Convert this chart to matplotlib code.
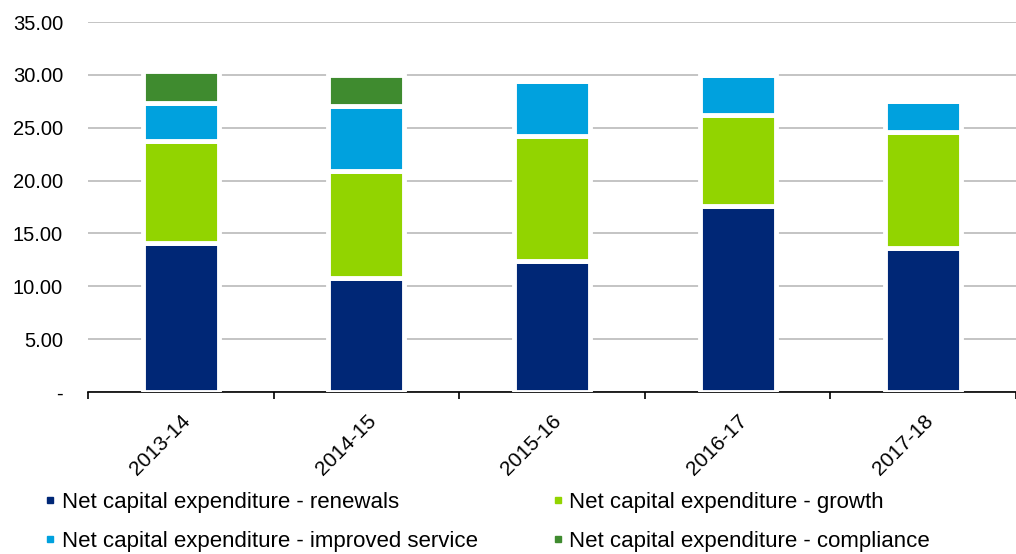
import matplotlib.pyplot as plt
from matplotlib.lines import Line2D
import numpy as np

plt.rcParams['font.family'] = ['Liberation Sans', 'DejaVu Sans']

years = ['2013-14', '2014-15', '2015-16', '2016-17', '2017-18']
renewals = [14.13, 10.81, 12.43, 17.60, 13.64]
growth = [9.62, 10.06, 11.77, 8.60, 10.92]
improved = [3.57, 6.23, 5.20, 3.75, 2.95]
compliance = [3.05, 2.85, 0.0, 0.0, 0.0]

series = [
    ('Net capital expenditure - renewals', renewals, '#002776'),
    ('Net capital expenditure - growth', growth, '#92D400'),
    ('Net capital expenditure - improved service', improved, '#00A1DE'),
    ('Net capital expenditure - compliance', compliance, '#3F8B2F'),
]

W, H = 1016, 554
fig = plt.figure(figsize=(W / 100, H / 100), dpi=100)
ax = fig.add_axes([88 / W, 1 - 392 / H, 928 / W, 370 / H])

x = np.arange(len(years))
bottom = np.zeros(len(years))
handles = {}
for name, vals, color in series:
    vals = np.array(vals)
    ax.bar(x, vals, width=0.41, bottom=bottom, color=color,
           edgecolor='white', linewidth=3.5, zorder=3)
    bottom += vals
    handles[name] = Line2D([], [], marker='s', linestyle='none',
                           markersize=5, color=color)

ax.set_xlim(-0.5, len(years) - 0.5)
ax.set_ylim(0, 35)
ax.set_yticks(np.arange(0, 36, 5))
ax.set_yticklabels(['-'] + ['%.2f' % v for v in range(5, 36, 5)])
ax.yaxis.grid(True, color='#BFBFBF', linewidth=1.3, zorder=0)
ax.set_axisbelow(True)

ax.set_xticks(x)
ax.set_xticklabels(years, rotation=45, ha='right', rotation_mode='anchor')
ax.set_xticks(np.arange(-0.5, len(years)), minor=True)
ax.tick_params(axis='x', which='major', length=0, pad=14, labelsize=15)
ax.tick_params(axis='x', which='minor', length=5, width=1.2, direction='out')
ax.tick_params(axis='y', length=0, pad=18, labelsize=14.5)

for s in ['top', 'right', 'left']:
    ax.spines[s].set_visible(False)
ax.spines['bottom'].set_linewidth(1.2)

order = [series[0][0], series[2][0], series[1][0], series[3][0]]
fig.legend([handles[n] for n in order], order, ncol=2, frameon=False,
           loc='upper left', bbox_to_anchor=(46 / W, 1 - 492 / H),
           borderpad=0, borderaxespad=0, fontsize=16,
           handlelength=0.4, handletextpad=0.3, columnspacing=3.4,
           labelspacing=0.82)

fig.savefig('out.png', dpi=100)
